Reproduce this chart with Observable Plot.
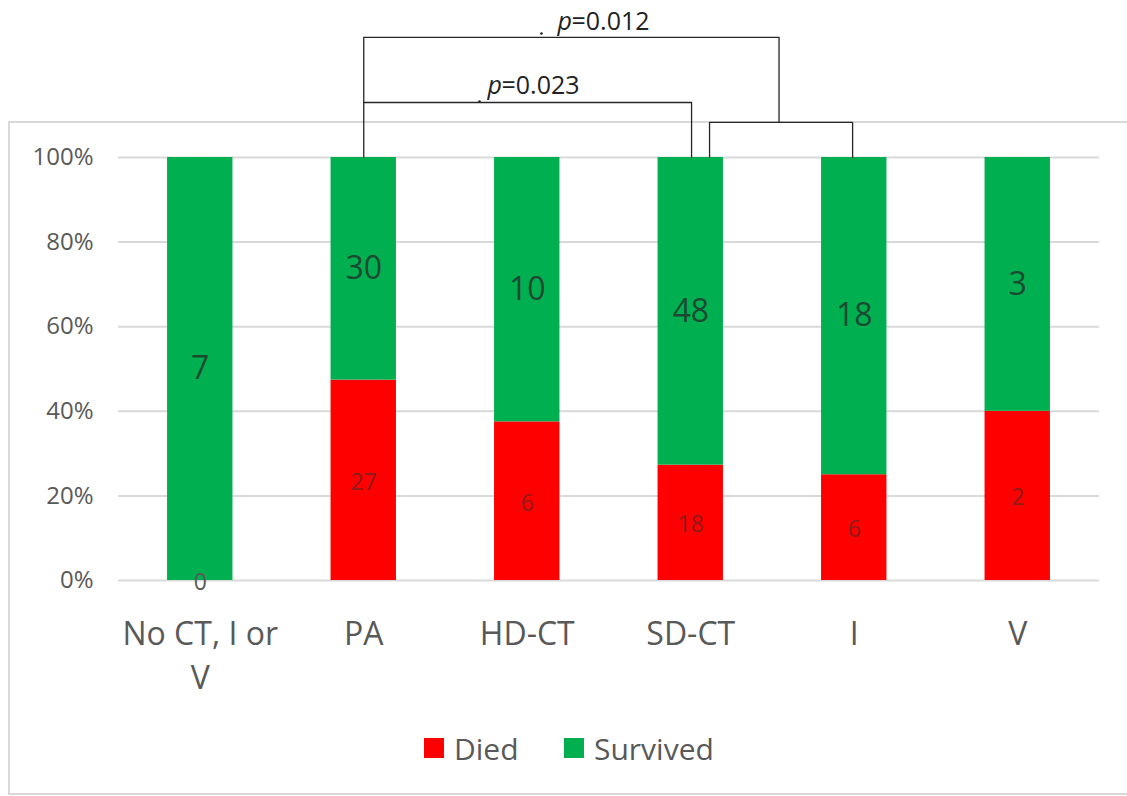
<!DOCTYPE html>
<html><head><meta charset="utf-8">
<script src="https://cdn.jsdelivr.net/npm/d3@7"></script>
<script src="https://cdn.jsdelivr.net/npm/@observablehq/plot@0.6"></script>
<style>
body{margin:0;background:#fff;font-family:"Open Sans",sans-serif;}
#wrap{position:relative;width:1127px;height:796px;overflow:hidden;background:#fff;}
#chart{position:absolute;left:0;top:0;}
#frame{position:absolute;left:8px;top:121px;width:1140px;height:674px;border:2px solid #d9d9d9;box-sizing:border-box;pointer-events:none;}
.lg{position:absolute;top:728px;height:40px;display:flex;align-items:center;font-size:30px;color:#595959;}
.sw{display:inline-block;width:20px;height:20px;margin-right:10px;}
</style>
</head><body>
<div id="wrap"><div id="frame"></div><div id="chart"></div></div>
<script>
const categories = ["No CT, I or\nV", "PA", "HD-CT", "SD-CT", "I", "V"];
const died = [0, 27, 6, 18, 6, 2];
const survived = [7, 30, 10, 48, 18, 3];
const seriesNames = ["Died", "Survived"];
const seriesColors = ["#ff0000", "#00b050"];
const yTicks = [0, 0.2, 0.4, 0.6, 0.8, 1];
const pLabels = ["=0.023", "=0.012"];

const rows = [];
categories.forEach((c, i) => {
  const tot = died[i] + survived[i];
  const d = died[i] / tot;
  rows.push({i, series: "Died", count: died[i], y1: 0, y2: d});
  rows.push({i, series: "Survived", count: survived[i], y1: d, y2: 1});
});
const diedRows = rows.filter(r => r.series === "Died");
const survRows = rows.filter(r => r.series === "Survived");

// bracket annotations in data coordinates (category index, share)
const hw = 0.2;
const bracketPaths = [
  {id: "a", pts: [[1, 1], [1, 1.13], [3.005, 1.13], [3.005, 1]]},
  {id: "b", pts: [[1, 1.13], [1, 1.284], [3.54, 1.284], [3.54, 1.083]]},
  {id: "c", pts: [[3.115, 1], [3.115, 1.083], [3.99, 1.083], [3.99, 1]]}
];
const bracketPts = bracketPaths.flatMap(b => b.pts.map(([x, y]) => ({id: b.id, x, y})));
const pTexts = [
  {x: 1.757, y: 1.168, t: pLabels[0]},
  {x: 2.185, y: 1.321, t: pLabels[1]}
];
const specks = [{x: 1.708, y: 1.132}, {x: 2.087, y: 1.293}];

const chart = Plot.plot({
  width: 1127,
  height: 796,
  marginLeft: 118,
  marginRight: 28,
  marginTop: 157,
  marginBottom: 216,
  style: {background: "transparent", fontFamily: "Open Sans, sans-serif"},
  x: {domain: [-0.5, 5.5]},
  y: {domain: [0, 1]},
  color: {domain: seriesNames, range: seriesColors},
  marks: [
    Plot.gridY(yTicks, {stroke: "#d9d9d9", strokeOpacity: 1, strokeWidth: 2}),
    Plot.axisY({ticks: yTicks, tickFormat: d3.format(".0%"), tickSize: 0, tickPadding: 25, fontSize: 24, color: "#595959", label: null}),
    Plot.axisX({ticks: d3.range(categories.length), tickFormat: i => categories[i], tickSize: 0, tickPadding: 34, fontSize: 32, lineHeight: 1.36, color: "#595959", label: null}),
    Plot.rectY(rows, {x1: d => d.i - hw, x2: d => d.i + hw, y1: "y1", y2: "y2", fill: "series"}),
    Plot.text(survRows, {x: "i", y: d => (d.y1 + d.y2) / 2, text: d => String(d.count), fontSize: 32, fill: "#1b4a31"}),
    Plot.text(diedRows, {x: "i", y: d => (d.y1 + d.y2) / 2, dy: 2, text: d => String(d.count), fontSize: 23, fill: d => d.count === 0 ? "#595959" : "#8f1a1a"}),
    Plot.line(bracketPts, {x: "x", y: "y", z: "id", stroke: "#262626", strokeWidth: 1.3, curve: "linear"}),
    Plot.text(pTexts, {x: "x", y: "y", text: () => "p", textAnchor: "start", fontSize: 25, fontStyle: "italic", fill: "#222"}),
    Plot.text(pTexts, {x: "x", y: "y", text: "t", textAnchor: "start", dx: 14, fontSize: 25, fill: "#222"}),
    Plot.dot(specks, {x: "x", y: "y", r: 1.3, fill: "#222", stroke: null})
  ]
});
document.getElementById("chart").appendChild(chart);

// legend
const wrap = document.getElementById("wrap");
const lgLeft = [424, 564];
seriesNames.forEach((n, k) => {
  const el = document.createElement("div");
  el.className = "lg";
  el.style.left = lgLeft[k] + "px";
  el.innerHTML = `<span class="sw" style="background:${seriesColors[k]}"></span><span>${n}</span>`;
  wrap.appendChild(el);
});
</script>
</body></html>
